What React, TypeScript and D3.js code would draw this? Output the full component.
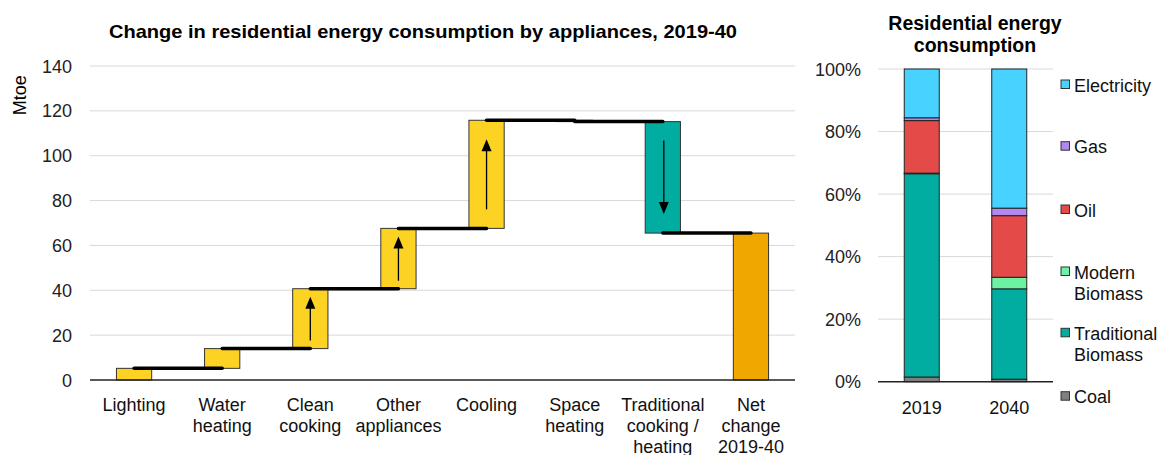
import React from 'react';
import * as d3 from 'd3';

// waterfall: change per appliance, Mtoe
const categories = ['Lighting', 'Water heating', 'Clean cooking', 'Other appliances', 'Cooling', 'Space heating', 'Traditional cooking / heating', 'Net change 2019-40'];
const catLabels = [['Lighting'], ['Water', 'heating'], ['Clean', 'cooking'], ['Other', 'appliances'], ['Cooling'], ['Space', 'heating'], ['Traditional', 'cooking /', 'heating'], ['Net', 'change', '2019-40']];
const deltas = [5.2, 8.8, 26.7, 26.9, 48.2, -0.6, -49.7];
const yTicks = [0, 20, 40, 60, 80, 100, 120, 140];

// share by fuel, %
const years = ['2019', '2040'];
const fuels = ['Coal', 'Traditional Biomass', 'Modern Biomass', 'Oil', 'Gas', 'Electricity'];
const fuelLabels = [['Coal'], ['Traditional', 'Biomass'], ['Modern', 'Biomass'], ['Oil'], ['Gas'], ['Electricity']];
const share2019 = [1.5, 65.0, 0.2, 16.8, 0.9, 15.6];
const share2040 = [0.8, 28.9, 3.7, 19.7, 2.4, 44.5];
const pctTicks = [0, 20, 40, 60, 80, 100];

const fuelColours = ['#7f7f7f', '#00ada0', '#6cf2a2', '#e34a48', '#b387f0', '#48d2ff'];
const font = 'Arial, "Liberation Sans", sans-serif';
const fs = 18;

function Waterfall() {
  const left = 90, right = 795, top = 66, bottom = 380;
  const x = d3.scaleBand().domain(categories).range([left, right]).paddingInner(0.6).paddingOuter(0.3);
  const y = d3.scaleLinear().domain([0, 140]).range([bottom, top]);

  // running totals
  let run = 0;
  const steps = deltas.map(d => {
    const s = { start: run, end: run + d };
    run += d;
    return s;
  });
  steps.push({ start: 0, end: run });

  const fills = ['#fdd323', '#fdd323', '#fdd323', '#fdd323', '#fdd323', '#00ada0', '#00ada0', '#f0a800'];
  const arrowIdx = [2, 3, 4, 6];
  const bw = x.bandwidth();
  const cx = (i: number) => (x(categories[i]) as number) + bw / 2;

  return (
    <g>
      <text x={423} y={38} textAnchor="middle" fontWeight="bold" fontSize={18.5} fontFamily={font} textLength={628} lengthAdjust="spacingAndGlyphs">
        Change in residential energy consumption by appliances, 2019-40
      </text>
      <text transform={`translate(26,${y(127)}) rotate(-90)`} textAnchor="middle" fontSize={fs} fontFamily={font}>Mtoe</text>
      {yTicks.map(t => (
        <g key={t}>
          {t > 0 && <line x1={left} x2={right} y1={y(t)} y2={y(t)} stroke="#d9d9d9" strokeWidth={1} />}
          <text x={72} y={y(t) + 6.5} textAnchor="end" fontSize={fs} fontFamily={font} fill="#222">{t}</text>
        </g>
      ))}
      {steps.map((s, i) => {
        const y0 = y(Math.max(s.start, s.end));
        const y1 = y(Math.min(s.start, s.end));
        return <rect key={i} x={x(categories[i])} y={y0} width={bw} height={y1 - y0} fill={fills[i]} stroke="#333" strokeWidth={1} />;
      })}
      {steps.slice(0, -1).map((s, i) => (
        <line key={'c' + i} x1={cx(i)} x2={cx(i + 1)} y1={y(s.end)} y2={y(s.end)} stroke="#000" strokeWidth={3.5} strokeLinecap="round" />
      ))}
      {arrowIdx.map(i => {
        const s = steps[i];
        const h = Math.abs(y(s.end) - y(s.start));
        const inset = h > 100 ? 19 : 8;
        const dir = s.end > s.start ? -1 : 1;
        const from = y(s.start) + dir * inset;
        const tip = y(s.end) - dir * inset;
        const ax = cx(i) + (dir > 0 ? 1 : 0);
        return (
          <g key={'a' + i}>
            <line x1={ax} x2={ax} y1={from} y2={tip - dir * 10} stroke="#000" strokeWidth={1.3} />
            <path d={`M${ax},${tip} L${ax - 5},${tip - dir * 12} L${ax + 5},${tip - dir * 12} Z`} fill="#000" />
          </g>
        );
      })}
      <line x1={left} x2={right} y1={bottom} y2={bottom} stroke="#222" strokeWidth={1.5} />
      {catLabels.map((lines, i) => (
        <text key={'l' + i} textAnchor="middle" fontSize={fs} fontFamily={font} fill="#111">
          {lines.map((ln, j) => (
            <tspan key={j} x={cx(i)} y={410.5 + j * 21.3}>{ln}</tspan>
          ))}
        </text>
      ))}
    </g>
  );
}

function ShareBars() {
  const left = 878, right = 1053, top = 69, bottom = 381.7;
  const x = d3.scaleBand().domain(years).range([left, right]).paddingInner(0.6).paddingOuter(0.3);
  const y = d3.scaleLinear().domain([0, 100]).range([bottom, top]);
  const rows = years.map((yr, i) => {
    const vals = i === 0 ? share2019 : share2040;
    const o: Record<string, number | string> = { year: yr };
    fuels.forEach((f, k) => { o[f] = vals[k]; });
    return o;
  });
  const series = d3.stack<Record<string, number | string>>().keys(fuels)(rows as any);
  const legendY = [396.7, 333.3, 272, 210, 146.7, 85];

  return (
    <g>
      <text textAnchor="middle" fontWeight="bold" fontSize={19.5} fontFamily={font}>
        <tspan x={975} y={30}>Residential energy</tspan>
        <tspan x={975} y={52}>consumption</tspan>
      </text>
      {pctTicks.map(t => (
        <g key={t}>
          {t > 0 && <line x1={left} x2={right} y1={y(t)} y2={y(t)} stroke="#d9d9d9" strokeWidth={1} />}
          <text x={861} y={y(t) + 6.5} textAnchor="end" fontSize={fs} fontFamily={font} fill="#222">{t}%</text>
        </g>
      ))}
      {series.map((s, k) => (
        <g key={k}>
          {s.map((d, i) => (
            <rect key={i} x={x(years[i])} y={y(d[1])} width={x.bandwidth()} height={y(d[0]) - y(d[1])} fill={fuelColours[k]} stroke="#222" strokeWidth={1} />
          ))}
        </g>
      ))}
      <line x1={left} x2={right} y1={bottom} y2={bottom} stroke="#222" strokeWidth={1.5} />
      {years.map(yr => (
        <text key={yr} x={(x(yr) as number) + x.bandwidth() / 2} y={413.5} textAnchor="middle" fontSize={fs} fontFamily={font} fill="#111">{yr}</text>
      ))}
      {fuels.map((f, k) => (
        <g key={f}>
          <rect x={1061} y={legendY[k] - 5} width={8.5} height={8.5} fill={fuelColours[k]} stroke="#333" strokeWidth={1} />
          <text fontSize={fs} fontFamily={font} fill="#111">
            {fuelLabels[k].map((ln, j) => (
              <tspan key={j} x={1074} y={legendY[k] + 6.5 + j * 21}>{ln}</tspan>
            ))}
          </text>
        </g>
      ))}
    </g>
  );
}

export default function App() {
  return (
    <svg width={1159} height={455} style={{ position: 'absolute', left: 0, top: 0, background: '#fff' }}>
      <Waterfall />
      <ShareBars />
    </svg>
  );
}
